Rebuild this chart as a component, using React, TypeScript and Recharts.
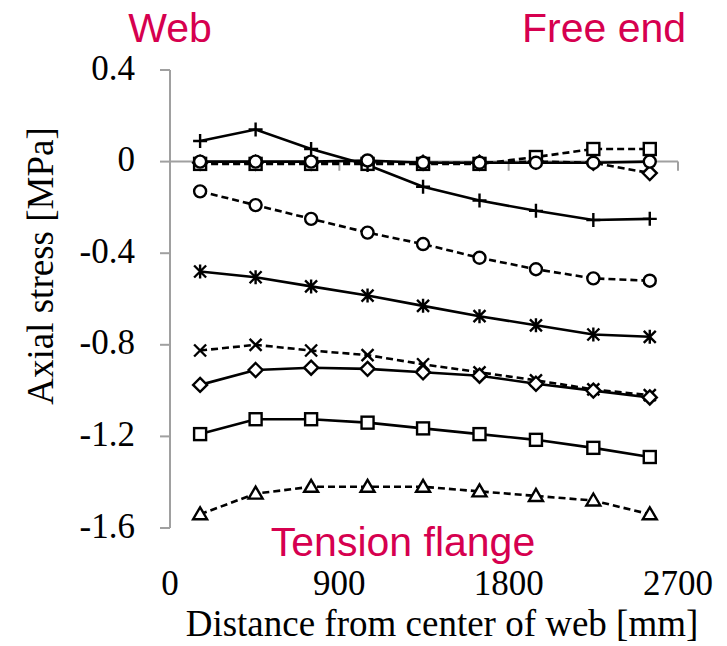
import { Line, LineChart, ReferenceLine, XAxis, YAxis } from "recharts";

// distance from centre of web [mm]
const distance = [160, 455, 750, 1050, 1345, 1645, 1945, 2250, 2550];

// axial stress [MPa], solid lines
const plusSolid = [0.09, 0.14, 0.055, -0.015, -0.11, -0.17, -0.215, -0.255, -0.25];
const circleSolid = [0.0, 0.0, 0.0, 0.005, -0.005, -0.005, -0.005, -0.005, 0.0];
const starSolid = [-0.48, -0.505, -0.545, -0.585, -0.63, -0.675, -0.715, -0.755, -0.765];
const diamondSolid = [-0.975, -0.91, -0.9, -0.905, -0.92, -0.935, -0.97, -1.0, -1.03];
const squareSolid = [-1.19, -1.125, -1.125, -1.14, -1.165, -1.19, -1.215, -1.25, -1.29];

// axial stress [MPa], dashed lines
const squareDashed = [-0.01, -0.01, -0.01, -0.01, -0.01, -0.01, 0.02, 0.055, 0.055];
const diamondDashed = [-0.005, -0.005, -0.005, -0.005, -0.005, -0.005, 0.0, -0.005, -0.05];
const circleDashed = [-0.13, -0.19, -0.25, -0.31, -0.36, -0.42, -0.47, -0.51, -0.52];
const crossDashed = [-0.825, -0.8, -0.825, -0.845, -0.885, -0.92, -0.955, -0.995, -1.02];
const triangleDashed = [-1.54, -1.45, -1.42, -1.42, -1.42, -1.44, -1.46, -1.48, -1.54];

const xTicks = [0, 900, 1800, 2700];
const yTicks = [0.4, 0, -0.4, -0.8, -1.2, -1.6];

type MarkerKind = "plus" | "circle" | "star" | "diamond" | "square" | "cross" | "triangle";

const series: { key: string; values: number[]; marker: MarkerKind; dashed: boolean }[] = [
  { key: "triangleDashed", values: triangleDashed, marker: "triangle", dashed: true },
  { key: "crossDashed", values: crossDashed, marker: "cross", dashed: true },
  { key: "circleDashed", values: circleDashed, marker: "circle", dashed: true },
  { key: "diamondDashed", values: diamondDashed, marker: "diamond", dashed: true },
  { key: "squareDashed", values: squareDashed, marker: "square", dashed: true },
  { key: "squareSolid", values: squareSolid, marker: "square", dashed: false },
  { key: "diamondSolid", values: diamondSolid, marker: "diamond", dashed: false },
  { key: "starSolid", values: starSolid, marker: "star", dashed: false },
  { key: "plusSolid", values: plusSolid, marker: "plus", dashed: false },
  { key: "circleSolid", values: circleSolid, marker: "circle", dashed: false },
];

const data = distance.map((x, i) => {
  const row: Record<string, number> = { x };
  series.forEach((s) => {
    row[s.key] = s.values[i];
  });
  return row;
});

const AXIS = "#a0a0a0";
const ACCENT = "#d6004f";
const SERIF = "'Liberation Serif', 'Times New Roman', serif";
const SANS = "'Liberation Sans', Arial, sans-serif";

function Marker({ cx, cy, kind }: { cx?: number; cy?: number; kind: MarkerKind }) {
  if (cx == null || cy == null) return null;
  const st = { stroke: "#000", strokeWidth: 2.4 };
  switch (kind) {
    case "circle":
      return <circle cx={cx} cy={cy} r={6} fill="#fff" {...st} />;
    case "square":
      return <rect x={cx - 6} y={cy - 6} width={12} height={12} fill="#fff" {...st} />;
    case "diamond":
      return (
        <polygon
          points={`${cx},${cy - 7} ${cx + 7},${cy} ${cx},${cy + 7} ${cx - 7},${cy}`}
          fill="#fff"
          {...st}
        />
      );
    case "triangle":
      return (
        <polygon
          points={`${cx},${cy - 7} ${cx + 7},${cy + 5} ${cx - 7},${cy + 5}`}
          fill="#fff"
          {...st}
        />
      );
    case "plus":
      return <path d={`M${cx - 7},${cy}H${cx + 7}M${cx},${cy - 7}V${cy + 7}`} fill="none" {...st} />;
    case "cross":
      return (
        <path
          d={`M${cx - 6},${cy - 6}L${cx + 6},${cy + 6}M${cx - 6},${cy + 6}L${cx + 6},${cy - 6}`}
          fill="none"
          {...st}
        />
      );
    case "star":
      return (
        <path
          d={`M${cx - 6},${cy - 6}L${cx + 6},${cy + 6}M${cx - 6},${cy + 6}L${cx + 6},${cy - 6}M${cx},${cy - 7}V${cy + 7}`}
          fill="none"
          {...st}
        />
      );
  }
}

const fmt = (v: number) => (v === 0 ? "0" : String(v));

function YTick(props: any) {
  const { x, y, payload } = props;
  return (
    <text x={x} y={y + 9.5} textAnchor="end" fontFamily={SERIF} fontSize={35} fill="#000">
      {fmt(payload.value)}
    </text>
  );
}

function XTick(props: any) {
  const { x, payload } = props;
  return (
    <text x={x} y={595} textAnchor="middle" fontFamily={SERIF} fontSize={35} fill="#000">
      {payload.value}
    </text>
  );
}

export default function App() {
  return (
    <div
      style={{
        position: "absolute",
        left: 0,
        top: 0,
        width: 727,
        height: 646,
        background: "#fff",
      }}
    >
      <LineChart width={727} height={646} data={data} margin={{ top: 70, right: 49, left: 0, bottom: 88 }}>
        <XAxis
          dataKey="x"
          type="number"
          domain={[0, 2700]}
          ticks={xTicks}
          axisLine={false}
          tickLine={false}
          tick={<XTick />}
          height={30}
        />
        <YAxis
          type="number"
          domain={[-1.6, 0.4]}
          ticks={yTicks}
          width={170}
          axisLine={{ stroke: AXIS, strokeWidth: 2 }}
          tickLine={{ stroke: AXIS, strokeWidth: 2 }}
          tickSize={10}
          tickMargin={25}
          tick={<YTick />}
          interval={0}
        />
        <ReferenceLine y={0} stroke={AXIS} strokeWidth={2} />
        {xTicks.slice(1).map((t) => (
          <ReferenceLine
            key={t}
            segment={[
              { x: t, y: 0 },
              { x: t, y: -0.04 },
            ]}
            stroke={AXIS}
            strokeWidth={2}
          />
        ))}
        {series.map((s) => (
          <Line
            key={s.key}
            dataKey={s.key}
            type="linear"
            stroke="#000"
            strokeWidth={2.6}
            strokeDasharray={s.dashed ? "7 4" : undefined}
            dot={(p: any) => <Marker key={`${s.key}-${p.index}`} cx={p.cx} cy={p.cy} kind={s.marker} />}
            activeDot={false}
            isAnimationActive={false}
          />
        ))}
      </LineChart>
      <svg
        width={727}
        height={646}
        style={{ position: "absolute", left: 0, top: 0, pointerEvents: "none" }}
      >
        <text x={170} y={42} textAnchor="middle" fontFamily={SANS} fontSize={41} fill={ACCENT}>
          Web
        </text>
        <text x={604} y={42} textAnchor="middle" fontFamily={SANS} fontSize={41} fill={ACCENT}>
          Free end
        </text>
        <text x={403} y={556} textAnchor="middle" fontFamily={SANS} fontSize={41} fill={ACCENT}>
          Tension flange
        </text>
        <text x={442} y={636} textAnchor="middle" fontFamily={SERIF} fontSize={37} fill="#000">
          Distance from center of web [mm]
        </text>
        <text
          x={40}
          y={266}
          textAnchor="middle"
          fontFamily={SERIF}
          fontSize={37}
          fill="#000"
          transform="rotate(-90, 40, 266)"
          dominantBaseline="central"
        >
          Axial stress [MPa]
        </text>
      </svg>
    </div>
  );
}
